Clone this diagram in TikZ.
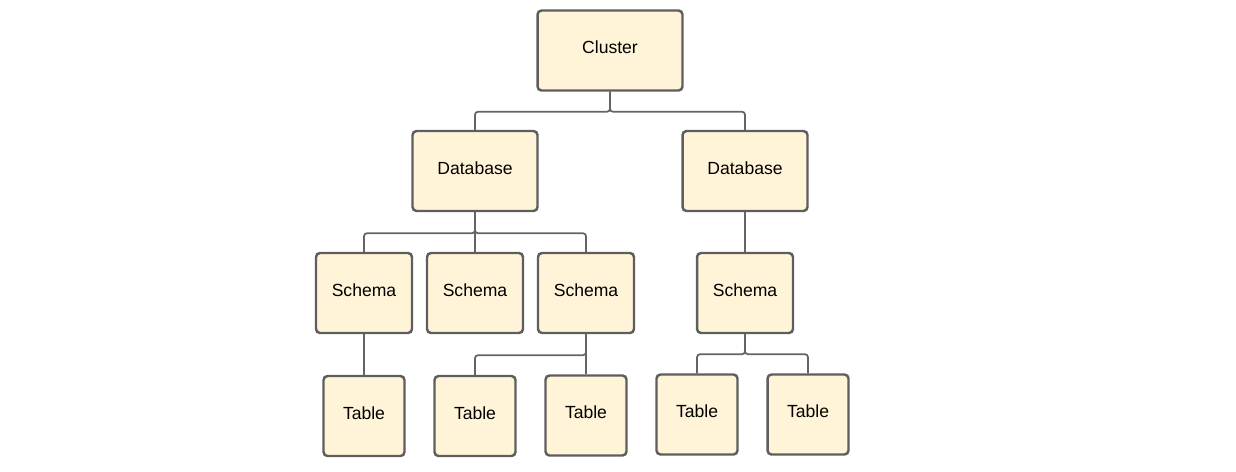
\documentclass[tikz,border=0pt]{standalone}
\usepackage{fontspec}
\setmainfont{Liberation Sans}
\usepackage{tikz}
\usetikzlibrary{positioning}
\tikzstyle{plan} = [x = .02cm, y = -.02cm]
\definecolor{boxFill}{RGB}{255,244,216}
\definecolor{boxLine}{RGB}{94,94,94}
\definecolor{linkColor}{RGB}{100,100,100}
\tikzstyle{boxStyle} = [draw=boxLine, fill=boxFill, rounded corners = .08cm, line width = 1.4pt, minimum height = 1.6cm, font=\fontsize{10}{12}\selectfont, inner sep = 0pt, text depth = .12cm]
\tikzstyle{clusterBox} = [boxStyle, minimum width = 2.9cm]
\tikzstyle{databaseBox} = [boxStyle, minimum width = 2.5cm]
\tikzstyle{schemaBox} = [boxStyle, minimum width = 1.92cm]
\tikzstyle{tableBox} = [boxStyle, minimum width = 1.62cm]
\tikzstyle{linkLine} = [color=linkColor, line width = 1pt, rounded corners = .06cm]
\newcommand{\branch}[3]{\draw [linkLine] (#1.south) -- ++(0,#3) -| (#2.north);}

\begin{document}
\begin{tikzpicture}[plan]
  \useasboundingbox (0,0) rectangle (1236,471);
  \node [clusterBox] (cluster) at (610,50.5) {Cluster};

  \node [databaseBox] (dbLeft) at (475,171) {Database};
  \node [databaseBox] (dbRight) at (745,171) {Database};

  \node [schemaBox] (schemaA) at (364,293) {Schema};
  \node [schemaBox] (schemaB) at (475,293) {Schema};
  \node [schemaBox] (schemaC) at (586,293) {Schema};
  \node [schemaBox] (schemaD) at (745,293) {Schema};

  \node [tableBox] (tableA) at (364,416) {Table};
  \node [tableBox] (tableB) at (475,416) {Table};
  \node [tableBox] (tableC) at (586,415.5) {Table};
  \node [tableBox] (tableD) at (697,414.5) {Table};
  \node [tableBox] (tableE) at (808,414.5) {Table};

  \branch{cluster}{dbLeft}{20}
  \branch{cluster}{dbRight}{20}
  \branch{dbLeft}{schemaA}{21}
  \branch{dbLeft}{schemaC}{21}
  \draw [linkLine] (dbLeft.south) -- (schemaB.north);
  \draw [linkLine] (dbRight.south) -- (schemaD.north);
  \draw [linkLine] (schemaA.south) -- (tableA.north);
  \branch{schemaC}{tableB}{21}
  \branch{schemaC}{tableC}{21}
  \branch{schemaD}{tableD}{20}
  \branch{schemaD}{tableE}{20}
\end{tikzpicture}
\end{document}
